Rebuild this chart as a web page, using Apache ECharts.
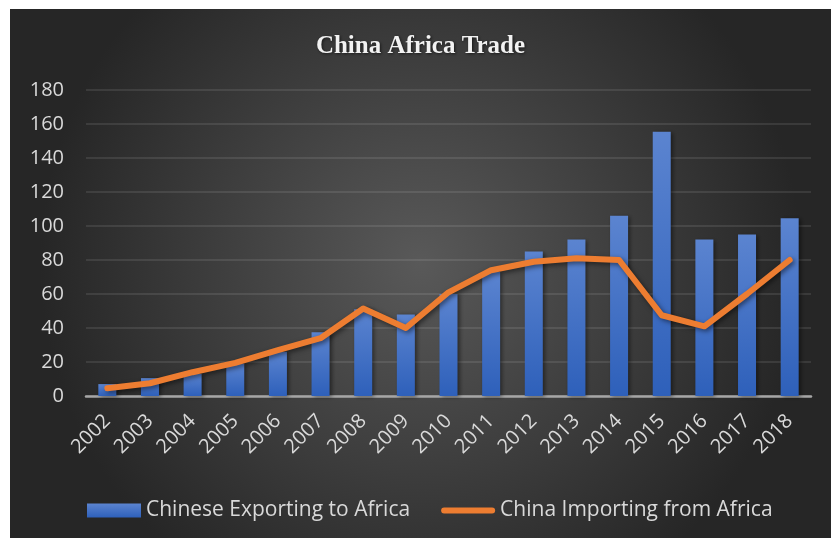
<!DOCTYPE html>
<html><head><meta charset="utf-8">
<script src="https://cdn.jsdelivr.net/npm/echarts@6/dist/echarts.min.js"></script>
<style>
html,body{margin:0;padding:0;background:#fff;}
#c{position:absolute;left:10px;top:9px;width:821px;height:529px;}
</style></head>
<body><div id="c"></div>
<script>
const titleText = 'China Africa Trade';
const years = ['2002','2003','2004','2005','2006','2007','2008','2009','2010','2011','2012','2013','2014','2015','2016','2017','2018'];
const exportsToAfrica = [7, 10.5, 13, 19, 26, 37.5, 51, 48, 60, 73, 85, 92, 106, 155.5, 92, 95, 104.5];
const importsFromAfrica = [4.5, 7.5, 14, 19.5, 27, 34, 51.5, 40, 61, 74, 79, 81, 80, 47.5, 41, 60, 80];
const seriesNames = ['Chinese Exporting to Africa', 'China Importing from Africa'];

const chart = echarts.init(document.getElementById('c'));
const txt = '#d9d9d9';
const font = 'Open Sans';
chart.setOption({
  animation: false,
  backgroundColor: {
    type: 'radial', x: 0.5, y: 0.48, r: 0.72,
    colorStops: [{offset: 0, color: '#595959'}, {offset: 1, color: '#262626'}]
  },
  title: {
    text: titleText, left: 'center', top: 20,
    textStyle: {fontFamily: 'Liberation Serif', fontWeight: 'bold', fontSize: 25, color: '#f2f2f2',
      textShadowColor: 'rgba(0,0,0,0.6)', textShadowBlur: 3, textShadowOffsetX: 1, textShadowOffsetY: 1}
  },
  legend: {
    top: 486, left: 72, itemGap: 31, itemWidth: 54, itemHeight: 14,
    textStyle: {color: txt, fontSize: 21, fontFamily: font},
    data: [
      {name: seriesNames[0], icon: 'rect'},
      {name: seriesNames[1], icon: 'path://M3,0 H51 A3,3 0 0 1 51,6 H3 A3,3 0 0 1 3,0 Z'}
    ]
  },
  grid: {left: 76, right: 20, top: 81, bottom: 142},
  xAxis: {
    type: 'category', data: years,
    axisLine: {lineStyle: {color: '#a6a6a6', width: 2.5}},
    axisTick: {show: false},
    axisLabel: {color: txt, fontSize: 20, fontFamily: font, rotate: 45, margin: 22}
  },
  yAxis: {
    type: 'value', min: 0, max: 180, interval: 20,
    axisLine: {show: false}, axisTick: {show: false},
    axisLabel: {color: txt, fontSize: 20, fontFamily: font, margin: 22},
    splitLine: {lineStyle: {color: 'rgba(255,255,255,0.13)', width: 1.5}}
  },
  series: [
    {
      name: seriesNames[0], type: 'bar', data: exportsToAfrica, barWidth: 18,
      itemStyle: {
        color: {type: 'linear', x: 0, y: 0, x2: 0, y2: 1,
          colorStops: [{offset: 0, color: '#5b84d0'}, {offset: 1, color: '#2e60ba'}]},
        shadowColor: 'rgba(0,0,0,0.45)', shadowBlur: 4, shadowOffsetX: 2, shadowOffsetY: 1
      }
    },
    {
      name: seriesNames[1], type: 'line', data: importsFromAfrica,
      symbol: 'none', smooth: false,
      lineStyle: {color: '#ed7d31', width: 6, cap: 'round', join: 'round',
        shadowColor: 'rgba(0,0,0,0.5)', shadowBlur: 5, shadowOffsetX: 2, shadowOffsetY: 2},
      itemStyle: {color: '#ed7d31'}
    }
  ]
});
</script></body></html>
